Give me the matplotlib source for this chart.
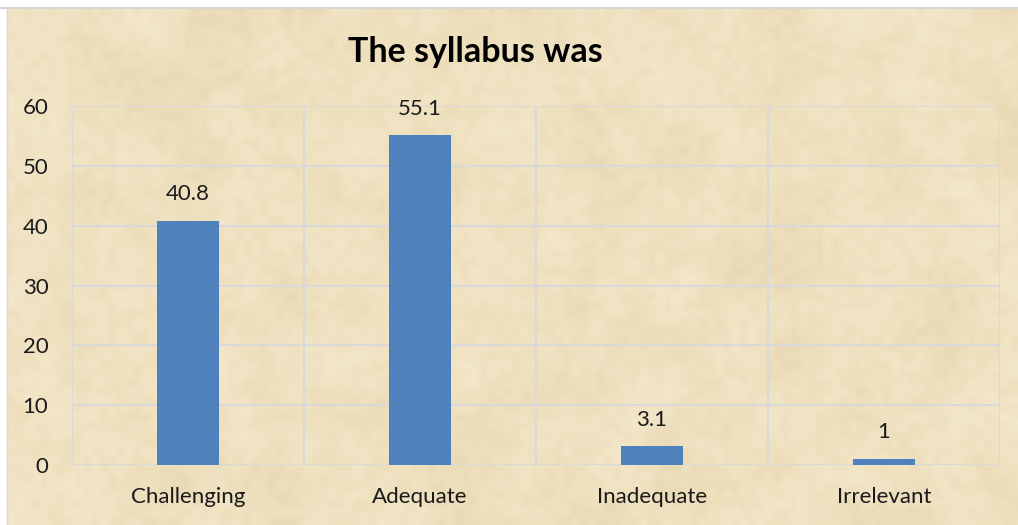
import matplotlib
matplotlib.use('Agg')
import matplotlib.pyplot as plt
from matplotlib.colors import LinearSegmentedColormap
import numpy as np

categories = ['Challenging', 'Adequate', 'Inadequate', 'Irrelevant']
values = [40.8, 55.1, 3.1, 1]
y_ticks = [0, 10, 20, 30, 40, 50, 60]
title = 'The syllabus was'

plt.rcParams['font.family'] = ['Lato', 'DejaVu Sans']

W, H = 1018, 525
fig = plt.figure(figsize=(W / 100, H / 100), dpi=100)
fig.patch.set_facecolor('white')

# parchment-like backdrop (decoration only)
bg = fig.add_axes([7 / W, 0, 1 - 7 / W, (H - 8) / H])
bg.set_axis_off()
rs = np.random.RandomState(3)
coarse = rs.rand(18, 36)
fine = rs.rand(60, 120)
base = np.array([240, 226, 193]) / 255.0
light = np.array([247, 237, 211]) / 255.0
dark = np.array([228, 210, 170]) / 255.0
cmap = LinearSegmentedColormap.from_list('parch', [dark, base, light])
bg.imshow(coarse, cmap=cmap, aspect='auto', interpolation='bicubic',
          extent=[0, 1, 0, 1], vmin=-0.2, vmax=1.2)
bg.imshow(fine, cmap=cmap, aspect='auto', interpolation='bilinear',
          extent=[0, 1, 0, 1], alpha=0.3)
bg.set_xlim(0, 1)
bg.set_ylim(0, 1)
fig.add_artist(plt.Line2D([0, 1], [(H - 7.5) / H] * 2, color='#d6d6d6', lw=1.5))
fig.add_artist(plt.Line2D([7 / W] * 2, [0, (H - 7.5) / H], color='#d6d6d6', lw=1.0))

ax = fig.add_axes([72 / W, (H - 465) / H, (1000 - 72) / W, (465 - 106) / H])
ax.patch.set_alpha(0)
x = np.arange(len(categories))
ax.bar(x, values, width=0.267, color='#4f81bd', zorder=3)

ax.set_xlim(-0.5, len(categories) - 0.5)
ax.set_ylim(0, 60)
ax.set_yticks(y_ticks)
ax.set_xticks(x)
ax.set_xticklabels(categories)
for b in np.arange(-0.5, len(categories), 1.0):
    ax.axvline(b, color='#d9d9d9', lw=1.5, zorder=1)
for t in y_ticks:
    ax.axhline(t, color='#d9d9d9', lw=1.5, zorder=1)
for s in ax.spines.values():
    s.set_visible(False)
ax.tick_params(axis='both', length=0, labelsize=16, colors='#1a1a1a')
ax.tick_params(axis='y', pad=17)
ax.tick_params(axis='x', pad=16)

for xi, v in zip(x, values):
    ax.annotate(f'{v:g}', (xi, v), xytext=(0, 12), textcoords='offset points',
                ha='center', va='bottom', fontsize=16, color='#1a1a1a')

fig.text(475 / W, (H - 52) / H, title, ha='center', va='center',
         fontsize=24.5, fontweight='bold', color='black')

fig.savefig('out.png', dpi=100)
